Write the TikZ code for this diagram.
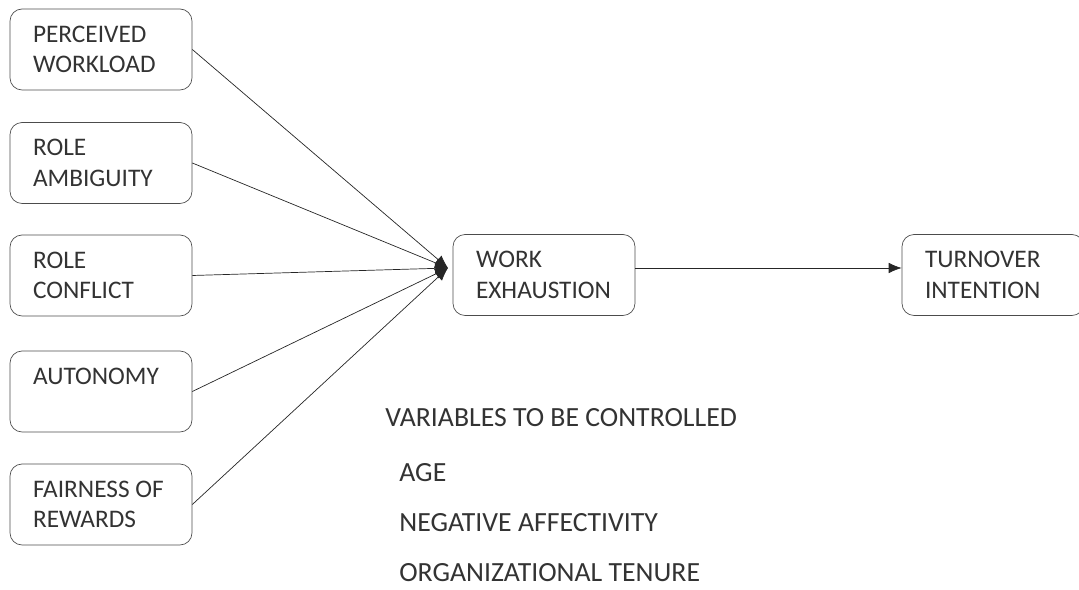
\documentclass[tikz,border=0pt]{standalone}
\usepackage{fontspec}
\setmainfont{Carlito}
\usetikzlibrary{arrows.meta}
\tikzset{
  box/.style={draw=black!70,rounded corners=2.4mm,minimum width=3.64cm,minimum height=1.62cm,
    inner xsep=0.46cm,text width=2.72cm,align=flush left,text=black!80,font=\fontsize{14.4}{17.5}\selectfont},
  var/.style={anchor=base west,inner sep=0,text=black!80,font=\fontsize{15.8}{17.5}\selectfont},
  link/.style={-{Latex[length=2.6mm,width=2.1mm]},black!85}
}
\begin{document}
\begin{tikzpicture}[x=0.02cm,y=-0.02cm]
\useasboundingbox (0,0) rectangle (1079,590);
\node[box] (a) at (101,49.5) {PERCEIVED\\WORKLOAD};
\node[box] (b) at (101,163) {ROLE\\AMBIGUITY};
\node[box] (c) at (101,275.5) {ROLE\\CONFLICT};
\node[box] (d) at (101,391.5) {AUTONOMY\\\mbox{}};
\node[box] (e) at (101,504.5) {\mbox{FAIRNESS OF}\\REWARDS};
\node[box] (w) at (544,275) {WORK\\EXHAUSTION};
\node[box] (t) at (993,275) {TURNOVER\\INTENTION};
\coordinate (p) at (448,268);
% paths into work exhaustion
\foreach \s in {a,b,c,d,e} \draw[link] (\s.east) -- (p);
\draw[link] (w.east |- p) -- (t.west |- p);
% controlled variables
\node[var] (v0) at (385,427) {VARIABLES TO BE CONTROLLED};
\node[var] (v1) at (399,482) {AGE};
\node[var] (v2) at (399,532) {NEGATIVE AFFECTIVITY};
\node[var] (v3) at (399,582) {ORGANIZATIONAL TENURE};
\end{tikzpicture}
\end{document}
